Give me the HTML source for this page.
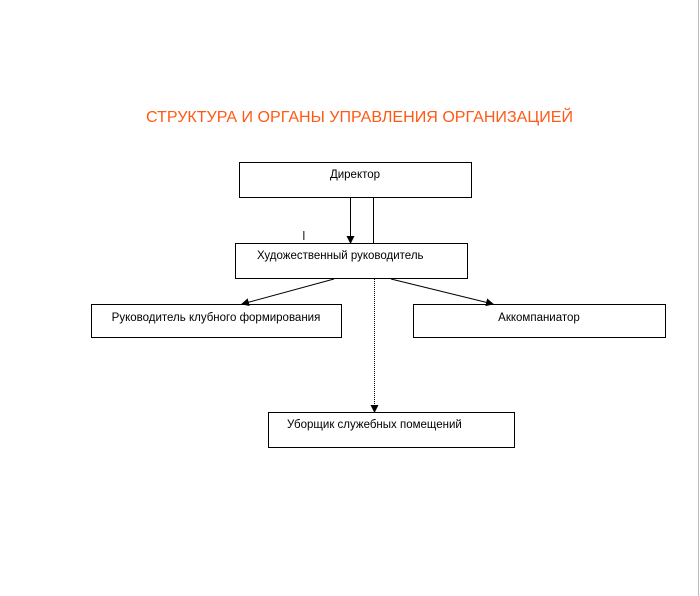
<!DOCTYPE html>
<html><head><meta charset="utf-8"><style>
html,body{margin:0;padding:0;background:#fff;}
svg{display:block;}
text{font-family:"Liberation Sans",sans-serif;}
</style></head><body>
<svg width="700" height="596" xmlns="http://www.w3.org/2000/svg">
<defs><marker id="a" markerWidth="8" markerHeight="8" refX="7" refY="4" orient="auto" markerUnits="userSpaceOnUse"><path d="M0,0 L8,4 L0,8 z" fill="#000"/></marker></defs>
<rect x="0" y="0" width="700" height="596" fill="#fff"/>
<line x1="698.5" y1="0" x2="698.5" y2="596" stroke="#bbb"/>
<text x="146" y="122" font-size="15.5" fill="#ff5a14" textLength="427" lengthAdjust="spacingAndGlyphs">СТРУКТУРА И ОРГАНЫ УПРАВЛЕНИЯ ОРГАНИЗАЦИЕЙ</text>
<g fill="none" stroke="#000" stroke-width="1">
<rect x="239.5" y="162.5" width="232" height="35"/>
<rect x="235.5" y="243.5" width="232" height="35"/>
<rect x="91.5" y="304.5" width="250" height="33"/>
<rect x="413.5" y="304.5" width="252" height="33"/>
<rect x="268.5" y="412.5" width="246" height="35"/>
<line x1="350.5" y1="198" x2="350.5" y2="243" marker-end="url(#a)"/>
<line x1="373.5" y1="198" x2="373.5" y2="243"/>
<line x1="334" y1="279" x2="242" y2="304" marker-end="url(#a)"/>
<line x1="391" y1="279" x2="493" y2="304" marker-end="url(#a)"/>
<line x1="374.5" y1="279" x2="374.5" y2="412" stroke-dasharray="1,1" marker-end="url(#a)"/>
</g>
<g font-size="11.5" fill="#000">
<text x="355" y="178" text-anchor="middle">Директор</text>
<text x="257" y="259">Художественный руководитель</text>
<text x="216" y="321" text-anchor="middle">Руководитель клубного формирования</text>
<text x="539" y="321" text-anchor="middle">Аккомпаниатор</text>
<text x="287" y="428">Уборщик служебных помещений</text>
</g>
<text x="302" y="240" font-size="13" fill="#333">I</text>
</svg>
</body></html>
